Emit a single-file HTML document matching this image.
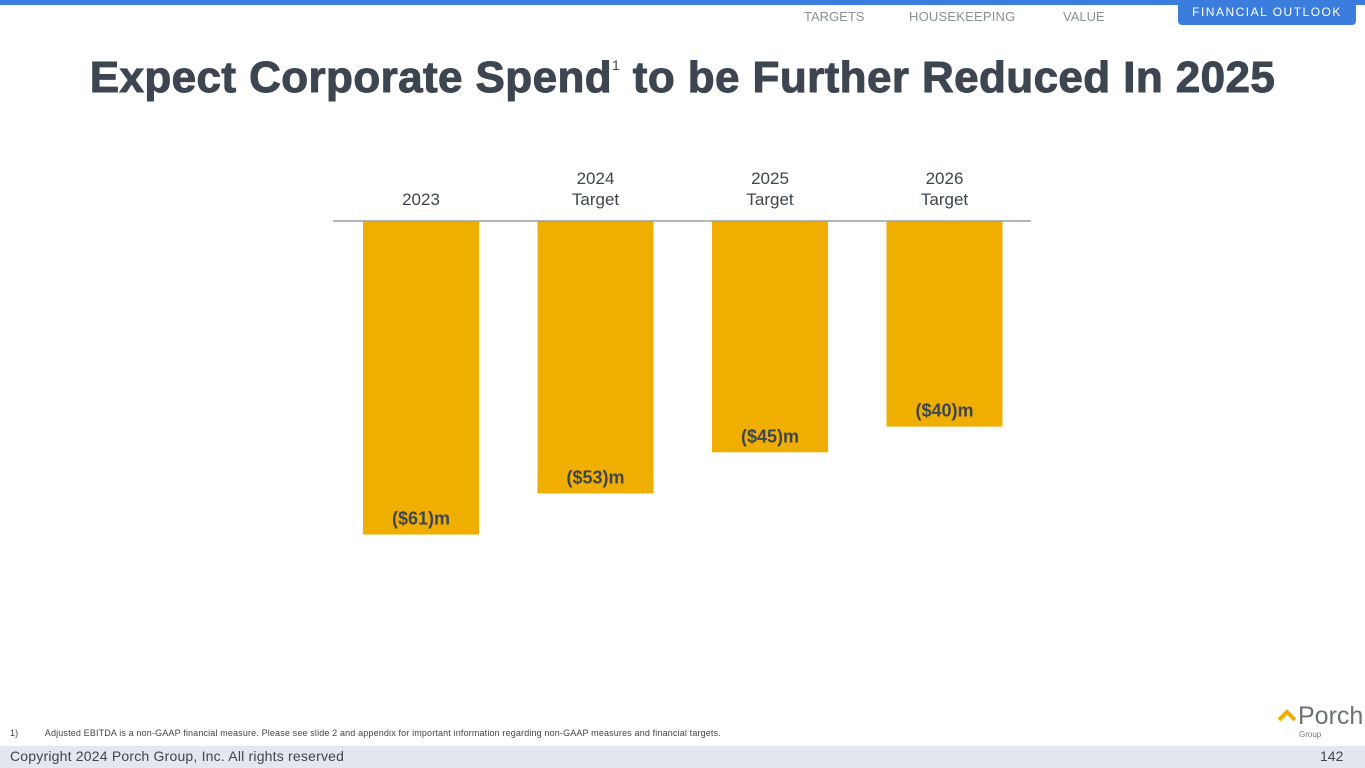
<!DOCTYPE html>
<html><head><meta charset="utf-8"><style>
body{margin:0;width:1365px;height:768px;position:relative;background:#fff;font-family:"Liberation Sans",sans-serif;overflow:hidden}
.abs{position:absolute}
</style></head><body>
<div class="abs" style="left:0;top:0;width:1365px;height:5px;background:#3b7ddd"></div>
<div class="abs" style="left:804px;top:9px;font-size:13px;color:#8a9099">TARGETS</div>
<div class="abs" style="left:909px;top:9px;font-size:13px;color:#8a9099;letter-spacing:0.2px">HOUSEKEEPING</div>
<div class="abs" style="left:1063px;top:9px;font-size:13px;color:#8a9099">VALUE</div>
<div class="abs" style="left:1178px;top:0;width:178px;height:25px;background:#3b7ddd;border-radius:0 0 4px 4px;color:#fff;font-size:12px;letter-spacing:1.5px;text-align:center;line-height:24px">FINANCIAL OUTLOOK</div>
<div class="abs" style="left:0;top:53px;width:1365px;text-align:center;font-size:44px;font-weight:bold;color:#3d4650;letter-spacing:0.4px;-webkit-text-stroke:1px #3d4650">Expect Corporate Spend<sup style="font-size:14px;font-weight:normal;vertical-align:22px;-webkit-text-stroke:0">1</sup> to be Further Reduced In 2025</div>
<svg class="abs" style="left:0;top:0" width="1365" height="768">
<g id="g"></g>
</svg>
<div class="abs" style="left:10px;top:728px;font-size:9px;color:#444;letter-spacing:0.15px">1)&nbsp;&nbsp;&nbsp;&nbsp;&nbsp;&nbsp;&nbsp;&nbsp;&nbsp;&nbsp;Adjusted EBITDA is a non-GAAP financial measure. Please see slide 2 and appendix for important information regarding non-GAAP measures and financial targets.</div>
<div class="abs" style="left:1277px;top:702px;width:88px;height:40px">
<svg width="22" height="14" style="position:absolute;left:0;top:6"><path d="M2 12 L10 4 L18 12" stroke="#f0ae00" stroke-width="4" fill="none"/></svg>
<span style="position:absolute;left:21px;top:0px;font-size:25px;color:#6b7178">Porch</span>
<span style="position:absolute;left:22px;top:28px;font-size:8px;color:#777">Group</span></div>
<div class="abs" style="left:0;top:746px;width:1365px;height:22px;background:#e4e7ee"></div>
<div class="abs" style="left:10px;top:748px;font-size:14px;color:#3d4650;letter-spacing:0.2px">Copyright 2024 Porch Group, Inc. All rights reserved</div>
<div class="abs" style="left:1320px;top:748px;font-size:14px;color:#3d4650">142</div>
<script>
const categories=["2023","2024\nTarget","2025\nTarget","2026\nTarget"];
const values=[-61,-53,-45,-40];
const labels=["($61)m","($53)m","($45)m","($40)m"];
const NS="http://www.w3.org/2000/svg";
const g=document.getElementById('g');
const y0=221, pxPer=5.14;
const yScale=v=>y0-v*pxPer;
const xCenter=i=>421+i*174.5;
const bw=116;
function mk(t,a){const e=document.createElementNS(NS,t);for(const k in a)e.setAttribute(k,a[k]);g.appendChild(e);return e;}
values.forEach((v,i)=>{
  const r=mk('rect',{x:xCenter(i)-bw/2,y:y0,width:bw,height:yScale(v)-y0,fill:'#f0ae00'});
  
  
  const t=mk('text',{x:xCenter(i),y:yScale(v)-10,'text-anchor':'middle','font-size':18,'font-weight':'bold',fill:'#3d4650','font-family':'Liberation Sans, sans-serif'});
  t.textContent=labels[i];
  
  
  const lines=categories[i].split('\n');
  lines.forEach((ln,j)=>{
    const c=mk('text',{x:xCenter(i),y:205-(lines.length-1-j)*21,'text-anchor':'middle','font-size':17,fill:'#3d4650','font-family':'Liberation Sans, sans-serif'});
    c.textContent=ln;
    
    
  });
});
const ax=mk('line',{x1:333,x2:1031,y1:y0,y2:y0,stroke:'#9a9ea4','stroke-width':1.5});


</script>
</body></html>
